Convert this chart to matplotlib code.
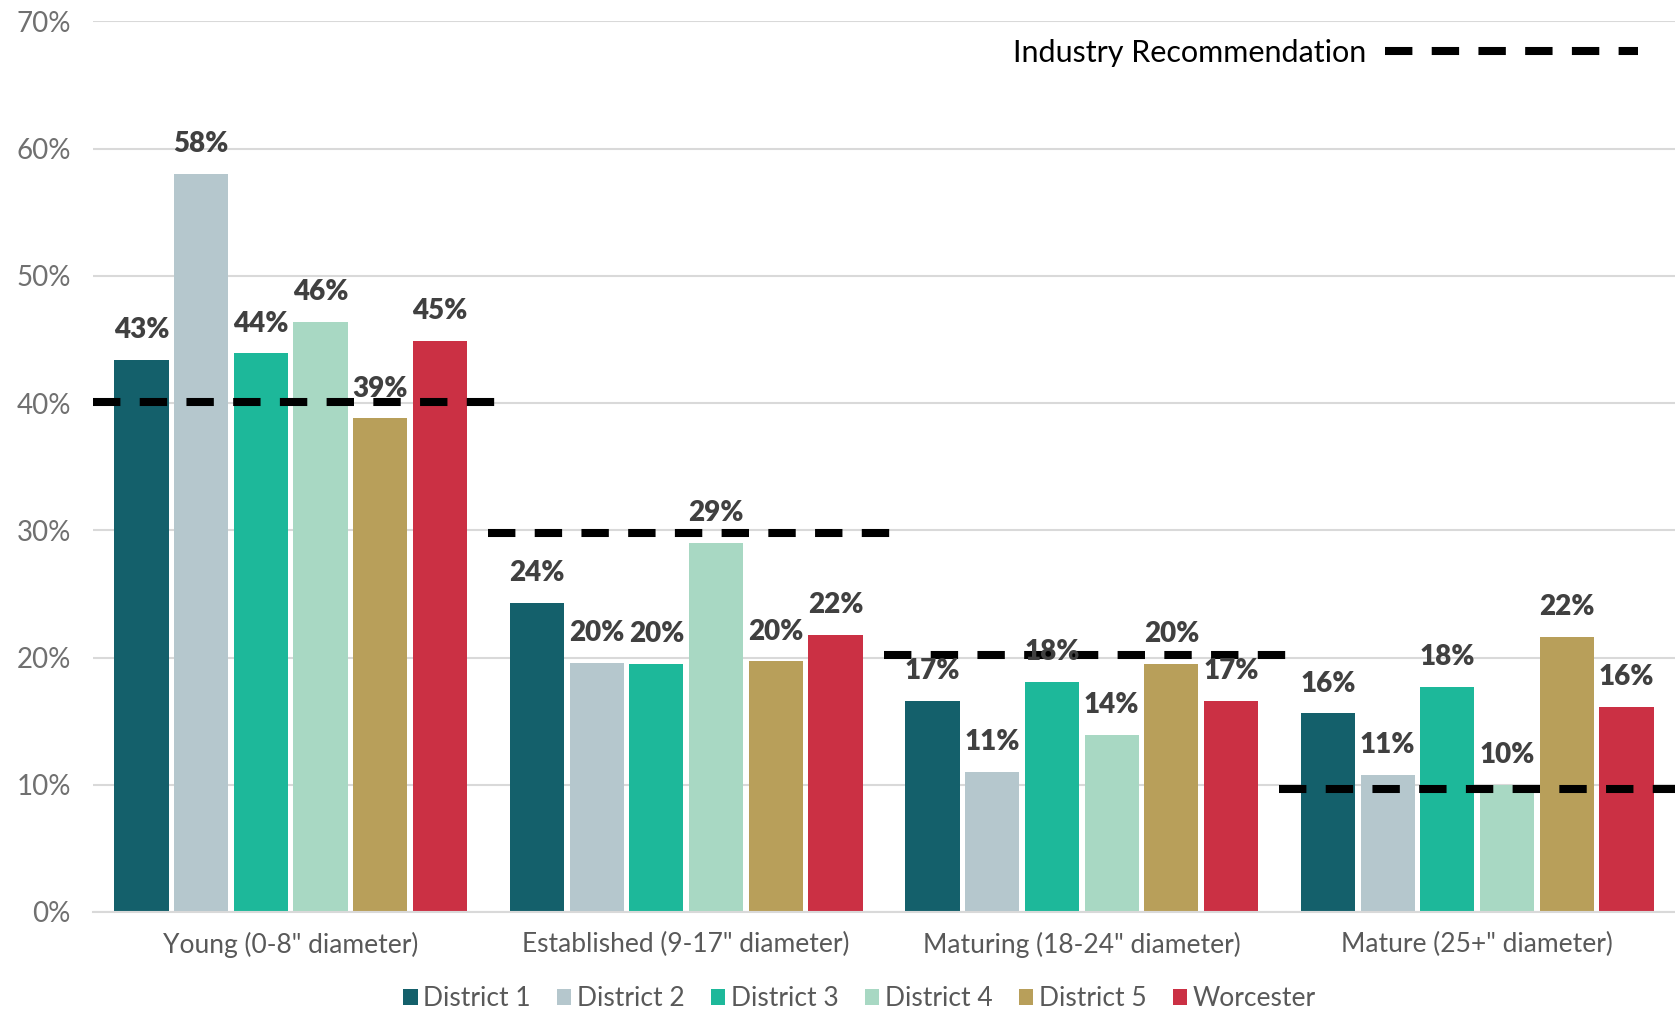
import matplotlib.pyplot as plt
import numpy as np
from matplotlib.lines import Line2D
from matplotlib.patches import Patch

plt.rcParams['font.family'] = ['Lato', 'DejaVu Sans']

# Data (percent)
categories = ['Young (0-8" diameter)', 'Established (9-17" diameter)',
              'Maturing (18-24" diameter)', 'Mature (25+" diameter)']
series = ['District 1', 'District 2', 'District 3', 'District 4', 'District 5', 'Worcester']
district_1 = [43.4, 24.3, 16.6, 15.6]
district_2 = [58.0, 19.6, 11.0, 10.8]
district_3 = [43.9, 19.5, 18.1, 17.7]
district_4 = [46.4, 29.0, 13.9, 10.0]
district_5 = [38.8, 19.7, 19.5, 21.6]
worcester = [44.9, 21.8, 16.6, 16.1]
recommendation = [40.1, 29.8, 20.2, 9.7]

values = [district_1, district_2, district_3, district_4, district_5, worcester]
colors = ['#14606B', '#B5C7CD', '#1DB89A', '#A8D8C3', '#B89F5A', '#CB3044']

fig = plt.figure(figsize=(16.75, 10.15), dpi=100)
ax = fig.add_axes([0.0555, 0.1015, 0.9445, 0.8775])

x = np.arange(len(categories))
slot = 0.151
width = 0.137

for j, (vals, c) in enumerate(zip(values, colors)):
    pos = x + (j - 2.5) * slot
    bars = ax.bar(pos, vals, width=width, color=c, zorder=2)
    for b, v in zip(bars, vals):
        ax.annotate(f'{v:.0f}%', (b.get_x() + b.get_width() / 2, v),
                    xytext=(0, 12), textcoords='offset points',
                    ha='center', va='bottom', fontsize=20, fontweight='heavy',
                    color='#404040', zorder=4)

# Industry recommendation lines, one per category
for i, r in enumerate(recommendation):
    ax.plot([i - 0.5, i + 0.55], [r, r], color='black', lw=5.8,
            dashes=(3.4, 2.4), dash_capstyle='butt', zorder=3)

ax.set_xlim(-0.5, 3.5)
ax.set_ylim(0, 70)
ax.set_yticks(np.arange(0, 71, 10))
ax.set_yticklabels([f'{t}%' for t in range(0, 71, 10)])
ax.set_xticks(x)
ax.set_xticklabels(categories)
ax.tick_params(axis='y', length=0, pad=16, labelsize=20, labelcolor='#707070')
ax.tick_params(axis='x', length=0, pad=14, labelsize=19, labelcolor='#595959')

ax.grid(axis='y', color='#D9D9D9', lw=1.5, zorder=0)
for s in ['top', 'right', 'left']:
    ax.spines[s].set_visible(False)
ax.spines['bottom'].set_color('#D9D9D9')
ax.spines['bottom'].set_linewidth(1.5)

# District legend at bottom
handles = [Patch(facecolor=c, label=s) for s, c in zip(series, colors)]
leg = fig.legend(handles=handles, loc='center', bbox_to_anchor=(0.513, 0.016),
                 ncol=6, frameon=False, fontsize=19, handlelength=0.55,
                 handleheight=0.55, handletextpad=0.2, columnspacing=1.0,
                 borderaxespad=0, borderpad=0)
for t in leg.get_texts():
    t.set_color('#595959')

# Recommendation legend at top right
rec = Line2D([0], [0], color='black', lw=5.8, dashes=(3.4, 2.4),
             dash_capstyle='butt')
fig.legend(handles=[rec], labels=['Industry Recommendation'], loc='center right',
           bbox_to_anchor=(0.978, 0.948), frameon=False, fontsize=22,
           markerfirst=False, handlelength=8.3, handletextpad=0.6,
           borderaxespad=0, borderpad=0)

fig.savefig('out.png', dpi=100)
